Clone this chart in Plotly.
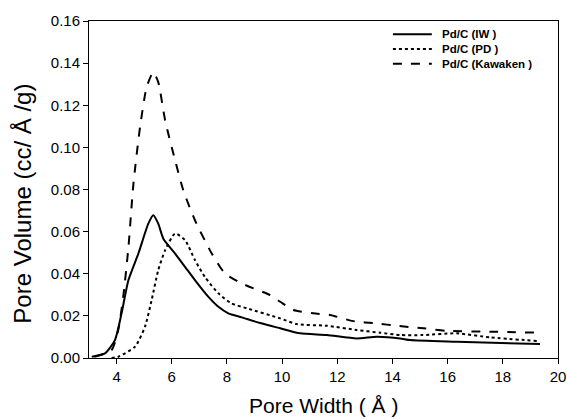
import plotly.graph_objects as go

iw_x = [3.1, 3.58, 3.94, 4.18, 4.43, 4.79, 5.15, 5.33, 5.51, 5.7, 6.12, 6.48, 6.84, 7.33, 7.69, 8.05, 8.54, 9.2, 9.93, 10.65, 11.62, 12.7, 13.43, 14.28, 14.64, 16.33, 19.35]
iw_y = [0.0006, 0.0022, 0.0085, 0.0212, 0.037, 0.0496, 0.0638, 0.0678, 0.0638, 0.0565, 0.0496, 0.0433, 0.037, 0.029, 0.0243, 0.0212, 0.0193, 0.0166, 0.0141, 0.0117, 0.0109, 0.0093, 0.0101, 0.0093, 0.0085, 0.0077, 0.0066]

pd_x = [3.82, 4.06, 4.67, 5.03, 5.27, 5.51, 5.76, 6.12, 6.48, 6.84, 7.2, 7.69, 8.17, 8.72, 9.93, 10.53, 11.62, 12.7, 13.55, 14.28, 15.1, 16.33, 17.54, 19.23]
pd_y = [0.0, 0.0006, 0.0054, 0.0149, 0.0275, 0.0417, 0.0512, 0.0591, 0.056, 0.0465, 0.0385, 0.0307, 0.0259, 0.0236, 0.0188, 0.0161, 0.0153, 0.0133, 0.012, 0.0109, 0.0109, 0.0117, 0.0098, 0.0081]

kw_x = [3.2, 3.82, 4.06, 4.24, 4.43, 4.61, 4.85, 5.09, 5.33, 5.51, 5.76, 6.12, 6.42, 6.84, 7.45, 7.93, 8.54, 9.56, 9.93, 10.41, 11.13, 11.74, 12.58, 13.43, 14.16, 15.12, 15.97, 17.54, 19.35]
kw_y = [0.0006, 0.0038, 0.0133, 0.029, 0.0527, 0.0827, 0.1096, 0.1286, 0.1357, 0.131, 0.1128, 0.0939, 0.0796, 0.0654, 0.0496, 0.0401, 0.0354, 0.0299, 0.0267, 0.0228, 0.0212, 0.0204, 0.0175, 0.0164, 0.0153, 0.0141, 0.0129, 0.0125, 0.012]

names = ["Pd/C (IW )", "Pd/C (PD )", "Pd/C (Kawaken )"]
dashes = ["solid", "dot", "dash"]
series = [(iw_x, iw_y), (pd_x, pd_y), (kw_x, kw_y)]
x_title = "Pore Width ( Å )"
y_title = "Pore Volume (cc/ Å /g)"

FONT = "Liberation Sans, Arial"

fig = go.Figure()
for (xs, ys), nm, ds in zip(series, names, dashes):
    fig.add_trace(go.Scatter(x=xs, y=ys, mode="lines", name=nm, showlegend=False,
                             line=dict(color="black", width=2, dash=ds, shape="spline", smoothing=0.6)))

# manual legend: one multi-line text block plus sample lines
leg_x0, leg_x1, leg_tx = 0.648, 0.731, 0.748
leg_rows = [0.961, 0.917, 0.873]
for ds, yy in zip(dashes, leg_rows):
    fig.add_shape(type="line", xref="paper", yref="paper", x0=leg_x0, x1=leg_x1, y0=yy, y1=yy,
                  line=dict(color="black", width=2, dash=ds))
fig.add_annotation(xref="paper", yref="paper", x=leg_tx, y=leg_rows[1], text="<br>".join(names),
                   showarrow=False, xanchor="left", yanchor="middle", align="left",
                   font=dict(family=FONT, size=11.5, color="black", weight="bold"))

# axis titles
fig.add_annotation(xref="paper", yref="paper", x=0.5, y=-0.1424, text=x_title, showarrow=False,
                   xanchor="center", yanchor="middle", font=dict(family=FONT, size=21, color="black"))
fig.add_annotation(xref="paper", yref="paper", x=-0.1407, y=0.458, text=y_title, showarrow=False,
                   textangle=-90, xanchor="center", yanchor="middle",
                   font=dict(family=FONT, size=24, color="black"))

axis_common = dict(showline=True, linecolor="black", linewidth=1, mirror=True,
                   ticks="outside", ticklen=5, tickcolor="black", showgrid=False,
                   zeroline=False, ticklabeloverflow="allow",
                   tickfont=dict(family=FONT, size=15, color="black"))

fig.update_xaxes(range=[3, 20], dtick=2, tick0=0, **axis_common)
fig.update_yaxes(range=[0, 0.16], dtick=0.02, tickformat=".2f", **axis_common)

fig.update_layout(
    width=567, height=419,
    margin=dict(l=89, r=9, t=21, b=61, autoexpand=False),
    paper_bgcolor="white", plot_bgcolor="white",
    showlegend=False,
)

fig.write_html("out.html", config={"displayModeBar": False},
               post_script="document.body.style.margin='0';document.body.style.overflow='hidden';")
